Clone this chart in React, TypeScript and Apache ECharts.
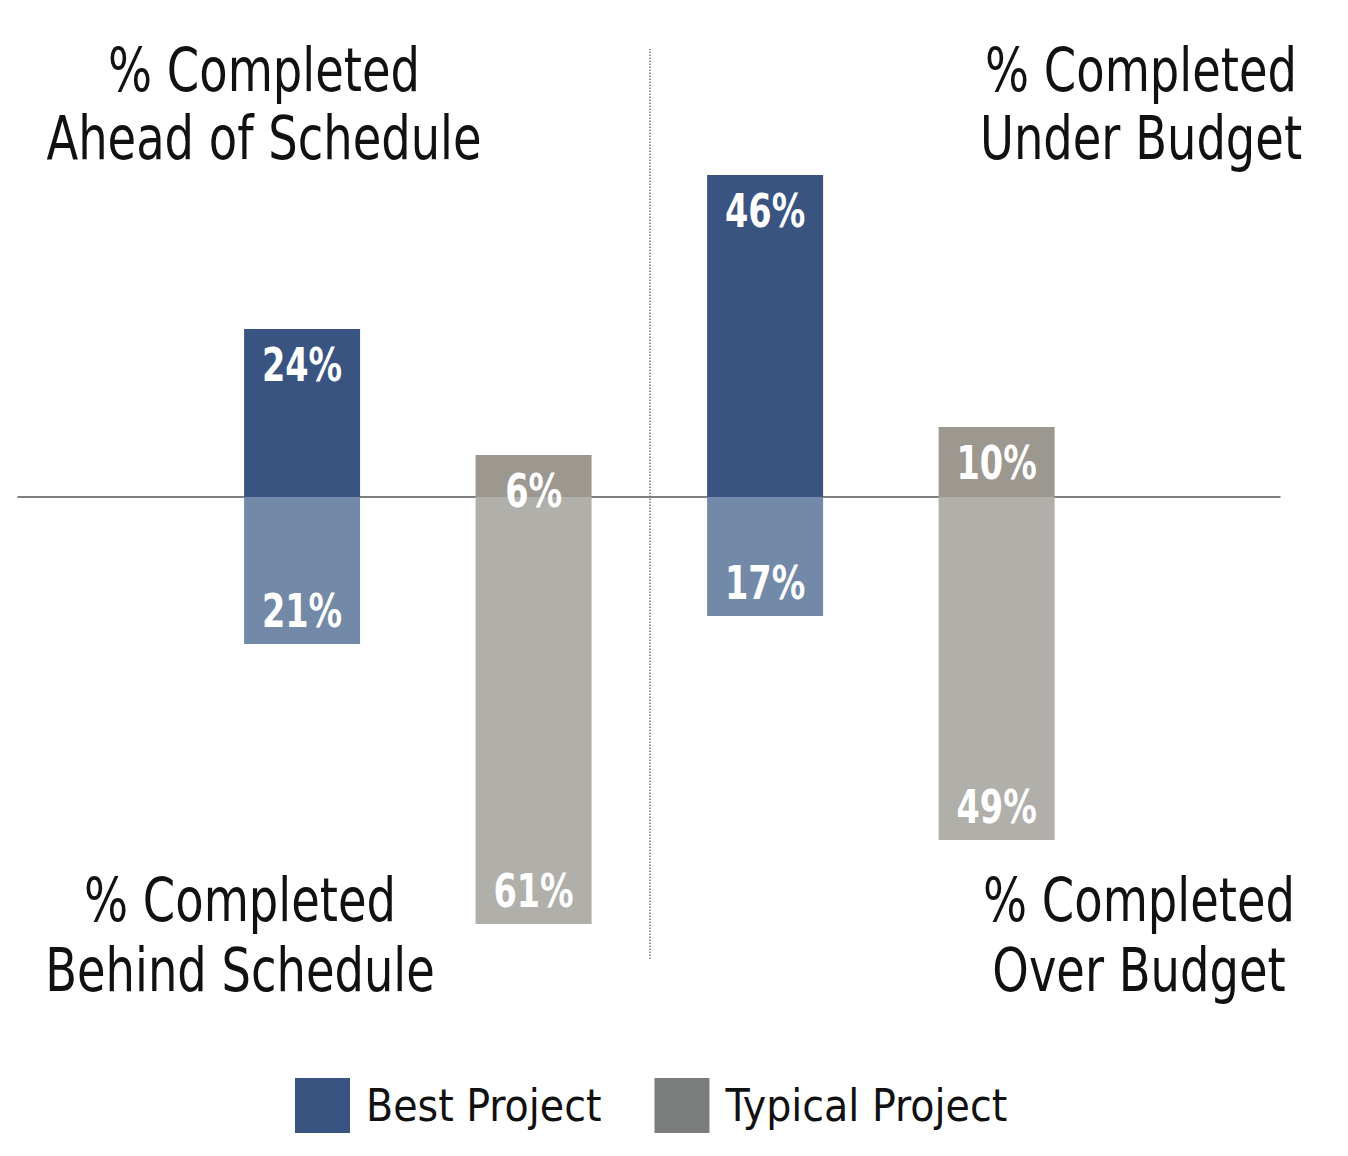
import React, { useEffect, useRef } from "react";
import * as echarts from "echarts";

// Data
const groups = ["Schedule", "Budget"];
const bestPositive = [24, 46]; // ahead of schedule / under budget
const bestNegative = [21, 17]; // behind schedule / over budget
const typicalPositive = [6, 10];
const typicalNegative = [61, 49];
const seriesNames = ["Best Project", "Typical Project"];
const quadrantTitles = [
  "% Completed\nAhead of Schedule",
  "% Completed\nUnder Budget",
  "% Completed\nBehind Schedule",
  "% Completed\nOver Budget",
];

const FONT = "'Liberation Sans Narrow', 'DejaVu Sans Condensed', 'Roboto Condensed', sans-serif";

const COLORS = {
  bestDark: "#3a5482",
  bestLight: "#7389a8",
  typDark: "#9c9890",
  typLight: "#b0afaa",
  typLegend: "#7b7d7d",
};

function buildItems(pos: number[], neg: number[], offset: number, dark: string, light: string) {
  const items: any[] = [];
  groups.forEach((_, i) => {
    const x = i * 2 + offset;
    items.push({ value: [x, pos[i]], itemStyle: { color: dark } });
    items.push({ value: [x, -neg[i]], itemStyle: { color: light } });
  });
  return items;
}

function labelPoints() {
  const pts: number[][] = [];
  groups.forEach((_, i) => {
    pts.push([i * 2 + 1, bestPositive[i]]);
    pts.push([i * 2 + 1, -bestNegative[i]]);
    pts.push([i * 2 + 2, typicalPositive[i]]);
    pts.push([i * 2 + 2, -typicalNegative[i]]);
  });
  return pts;
}

export default function App() {
  const ref = useRef<HTMLDivElement>(null);
  useEffect(() => {
    if (!ref.current) return;
    const chart = echarts.init(ref.current, null, { renderer: "svg" });
    const titleStyle = (text: string, x: number, y: number, lh: number) => ({
      type: "text",
      x,
      y,
      scaleX: 0.86,
      style: {
        text,
        fill: "#111111",
        font: `60px ${FONT}`,
        align: "center",
        verticalAlign: "top",
        lineHeight: lh,
      },
    });
    chart.setOption({
      animation: false,
      backgroundColor: "#ffffff",
      grid: { left: 18, right: 68, top: 49, bottom: 197 },
      xAxis: {
        type: "value",
        min: -0.227,
        max: 5.224,
        axisLine: { show: true, onZero: true, lineStyle: { color: "#555555", width: 1.5 } },
        axisTick: { show: false },
        axisLabel: { show: false },
        splitLine: { show: false },
      },
      yAxis: {
        type: "value",
        min: -66,
        max: 64,
        show: false,
        splitLine: { show: false },
      },
      legend: {
        left: 295,
        top: 1078,
        padding: 0,
        itemWidth: 55,
        itemHeight: 55,
        itemGap: 53,
        icon: "rect",
        textStyle: {
          fontFamily: FONT,
          fontSize: 44,
          color: "#111111",
          padding: [0, 0, 0, 11],
        },
        data: seriesNames,
      },
      series: [
        {
          name: seriesNames[0],
          type: "bar",
          barWidth: 116,
          itemStyle: { color: COLORS.bestDark },
          data: buildItems(bestPositive, bestNegative, 1, COLORS.bestDark, COLORS.bestLight),
          markLine: {
            silent: true,
            symbol: "none",
            label: { show: false },
            lineStyle: { type: "dotted", color: "#777777", width: 1.5 },
            data: [{ xAxis: 2.5 }],
          },
        },
        {
          name: seriesNames[1],
          type: "bar",
          barWidth: 116,
          barGap: "-100%",
          itemStyle: { color: COLORS.typLegend },
          data: buildItems(typicalPositive, typicalNegative, 2, COLORS.typDark, COLORS.typLight),
        },
        {
          name: "labels",
          type: "custom",
          silent: true,
          z: 10,
          data: labelPoints(),
          renderItem: (params: any, api: any) => {
            const x = api.value(0);
            const y = api.value(1);
            const p = api.coord([x, y]);
            const ty = y >= 0 ? p[1] + 36 : p[1] - 33;
            return {
              type: "text",
              x: p[0],
              y: ty,
              scaleX: 0.81,
              style: {
                text: Math.abs(y) + "%",
                fill: "#ffffff",
                font: `bold 46px ${FONT}`,
                align: "center",
                verticalAlign: "middle",
              },
            };
          },
        },
      ],
      graphic: [
        titleStyle(quadrantTitles[0], 264, 36, 68),
        titleStyle(quadrantTitles[1], 1141, 36, 68),
        titleStyle(quadrantTitles[2], 240, 865, 70),
        titleStyle(quadrantTitles[3], 1139, 865, 70),
      ],
    });
    return () => chart.dispose();
  }, []);
  return (
    <div
      ref={ref}
      style={{ position: "fixed", left: 0, top: 0, width: 1348, height: 1156 }}
    />
  );
}
